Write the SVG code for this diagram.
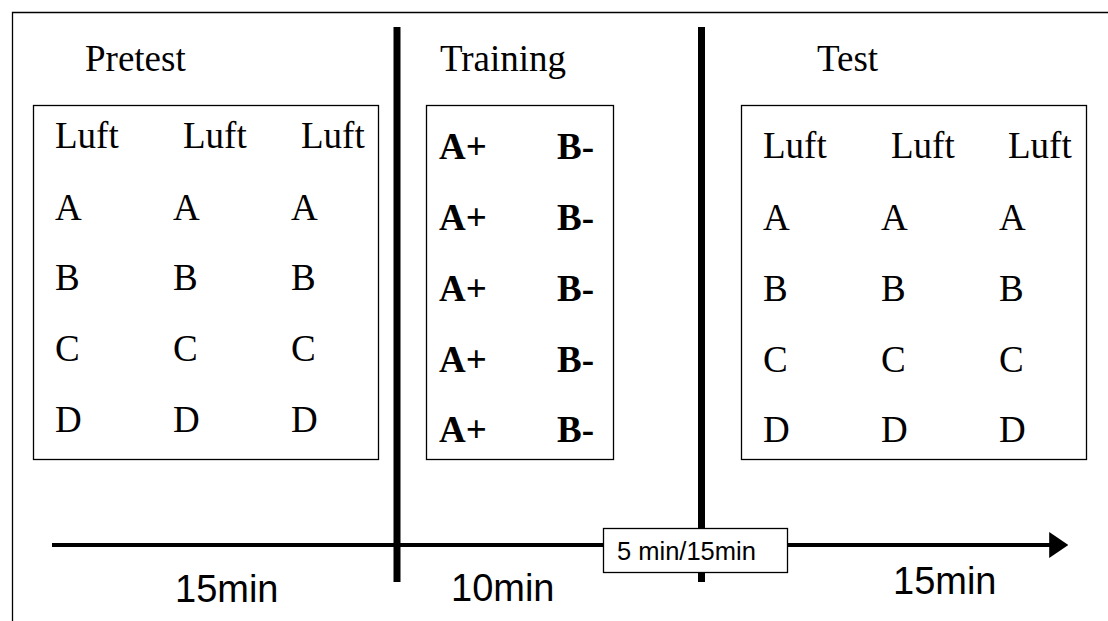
<svg xmlns="http://www.w3.org/2000/svg" width="1108" height="621" viewBox="0 0 1108 621">
<defs>
<style>
.t{font-family:"Liberation Serif","Times New Roman",serif;font-size:37px;fill:#000}
.b{font-family:"Liberation Serif","Times New Roman",serif;font-size:37px;font-weight:bold;fill:#000}
.s{font-family:"Liberation Sans",Arial,sans-serif;fill:#000}
.box{fill:#fff;stroke:#000;stroke-width:1.3}
.sep{stroke:#000;stroke-width:7}
</style>
<marker id="ah" markerWidth="4.75" markerHeight="6.5" refX="0.2" refY="3.25" orient="auto" markerUnits="strokeWidth">
<path d="M0,0 L4.75,3.25 L0,6.5 Z" fill="#000"/>
</marker>
</defs>
<rect width="1108" height="621" fill="#fff"/>
<path d="M12.5,621 L12.5,12.5 L1108,12.5" fill="none" stroke="#000" stroke-width="1.3"/>
<g id="separators">
<line class="sep" x1="397" y1="27" x2="397" y2="582"/>
<line class="sep" x1="701.5" y1="27" x2="701.5" y2="582"/>
</g>
<g id="connectors">
<line x1="52" y1="545" x2="1050" y2="545" stroke="#000" stroke-width="4" marker-end="url(#ah)"/>
</g>
<g id="pretest">
<text class="t" x="85" y="71">Pretest</text>
<rect class="box" x="33.5" y="105.5" width="345" height="354"/>
<text class="t" x="55" y="148">Luft</text><text class="t" x="183" y="148">Luft</text><text class="t" x="301" y="148">Luft</text>
<text class="t" x="55" y="220">A</text><text class="t" x="173" y="220">A</text><text class="t" x="291" y="220">A</text>
<text class="t" x="55" y="290">B</text><text class="t" x="173" y="290">B</text><text class="t" x="291" y="290">B</text>
<text class="t" x="55" y="361">C</text><text class="t" x="173" y="361">C</text><text class="t" x="291" y="361">C</text>
<text class="t" x="55" y="432">D</text><text class="t" x="173" y="432">D</text><text class="t" x="291" y="432">D</text>
</g>
<g id="training">
<text class="t" x="440" y="71">Training</text>
<rect class="box" x="426.5" y="105.5" width="187" height="354"/>
<text class="b" x="439" y="159">A+</text><text class="b" x="557" y="159">B-</text>
<text class="b" x="439" y="230">A+</text><text class="b" x="557" y="230">B-</text>
<text class="b" x="439" y="301">A+</text><text class="b" x="557" y="301">B-</text>
<text class="b" x="439" y="372">A+</text><text class="b" x="557" y="372">B-</text>
<text class="b" x="439" y="442">A+</text><text class="b" x="557" y="442">B-</text>
</g>
<g id="test">
<text class="t" x="817" y="71">Test</text>
<rect class="box" x="741.5" y="105.5" width="345" height="354"/>
<text class="t" x="763" y="158">Luft</text><text class="t" x="891" y="158">Luft</text><text class="t" x="1008" y="158">Luft</text>
<text class="t" x="763" y="230">A</text><text class="t" x="881" y="230">A</text><text class="t" x="999" y="230">A</text>
<text class="t" x="763" y="301">B</text><text class="t" x="881" y="301">B</text><text class="t" x="999" y="301">B</text>
<text class="t" x="763" y="372">C</text><text class="t" x="881" y="372">C</text><text class="t" x="999" y="372">C</text>
<text class="t" x="763" y="442">D</text><text class="t" x="881" y="442">D</text><text class="t" x="999" y="442">D</text>
</g>
<g id="interval">
<rect class="box" x="603.5" y="528.5" width="184" height="44"/>
<text class="s" x="617" y="560" font-size="25.5">5 min/15min</text>
</g>
<g id="durations">
<text class="s" x="175" y="602" font-size="38">15min</text>
<text class="s" x="451" y="601" font-size="38">10min</text>
<text class="s" x="893" y="594" font-size="38">15min</text>
</g>
</svg>
